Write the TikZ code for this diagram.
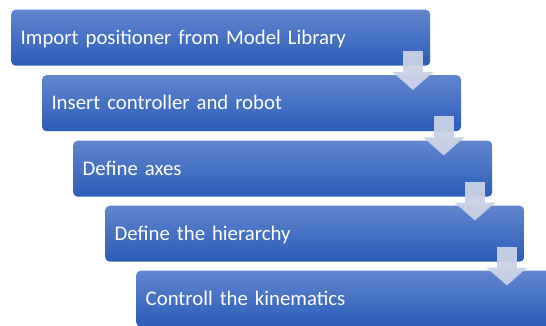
\documentclass[tikz,border=0pt]{standalone}
\usepackage{fontspec}
\setmainfont{Carlito}
\usetikzlibrary{arrows.meta,calc}
\definecolor{boxtop}{RGB}{96,134,206}
\definecolor{boxbot}{RGB}{42,92,184}
\definecolor{flowfill}{RGB}{201,209,229}
\tikzset{
  stepbox/.style={rectangle, rounded corners=4.5pt, anchor=north west,
    top color=boxtop, bottom color=boxbot, draw=none,
    minimum width=419pt, minimum height=56pt,
    text width=400pt, inner xsep=9.5pt, inner ysep=0pt, align=left,
    text height=13.5pt, text depth=0pt, text=white,
    font=\fontsize{20.8pt}{24pt}\selectfont},
  flow/.style={draw=flowfill, line width=20pt, opacity=0.95,
    -{Triangle[width=40pt,length=18pt]}}
}
\begin{document}
\begin{tikzpicture}[x=1pt,y=-1pt]
  \useasboundingbox (0,0) rectangle (546,326);
  \clip (0,0) rectangle (546,326);
  % the five steps, one stair down and to the right each
  \node[stepbox] (b1) at (11,9.5)    {Import positioner from Model Library};
  \node[stepbox] (b2) at (41.8,75)   {Insert controller and robot};
  \node[stepbox] (b3) at (73,140.5)  {Define axes};
  \node[stepbox] (b4) at (105,205.5) {Define the hierarchy};
  \node[stepbox] (b5) at (136,270.5) {Controll the kinematics};
  % down arrows linking each step to the next
  \foreach \a/\b in {b1/b2,b2/b3,b3/b4,b4/b5}{
    \coordinate (s) at ($(\a.south east)+(-17.5,0)$);
    \draw[flow] ($(s)+(0,-15)$) -- ($(s |- \b.north)+(0,15)$);
  }
\end{tikzpicture}
\end{document}
